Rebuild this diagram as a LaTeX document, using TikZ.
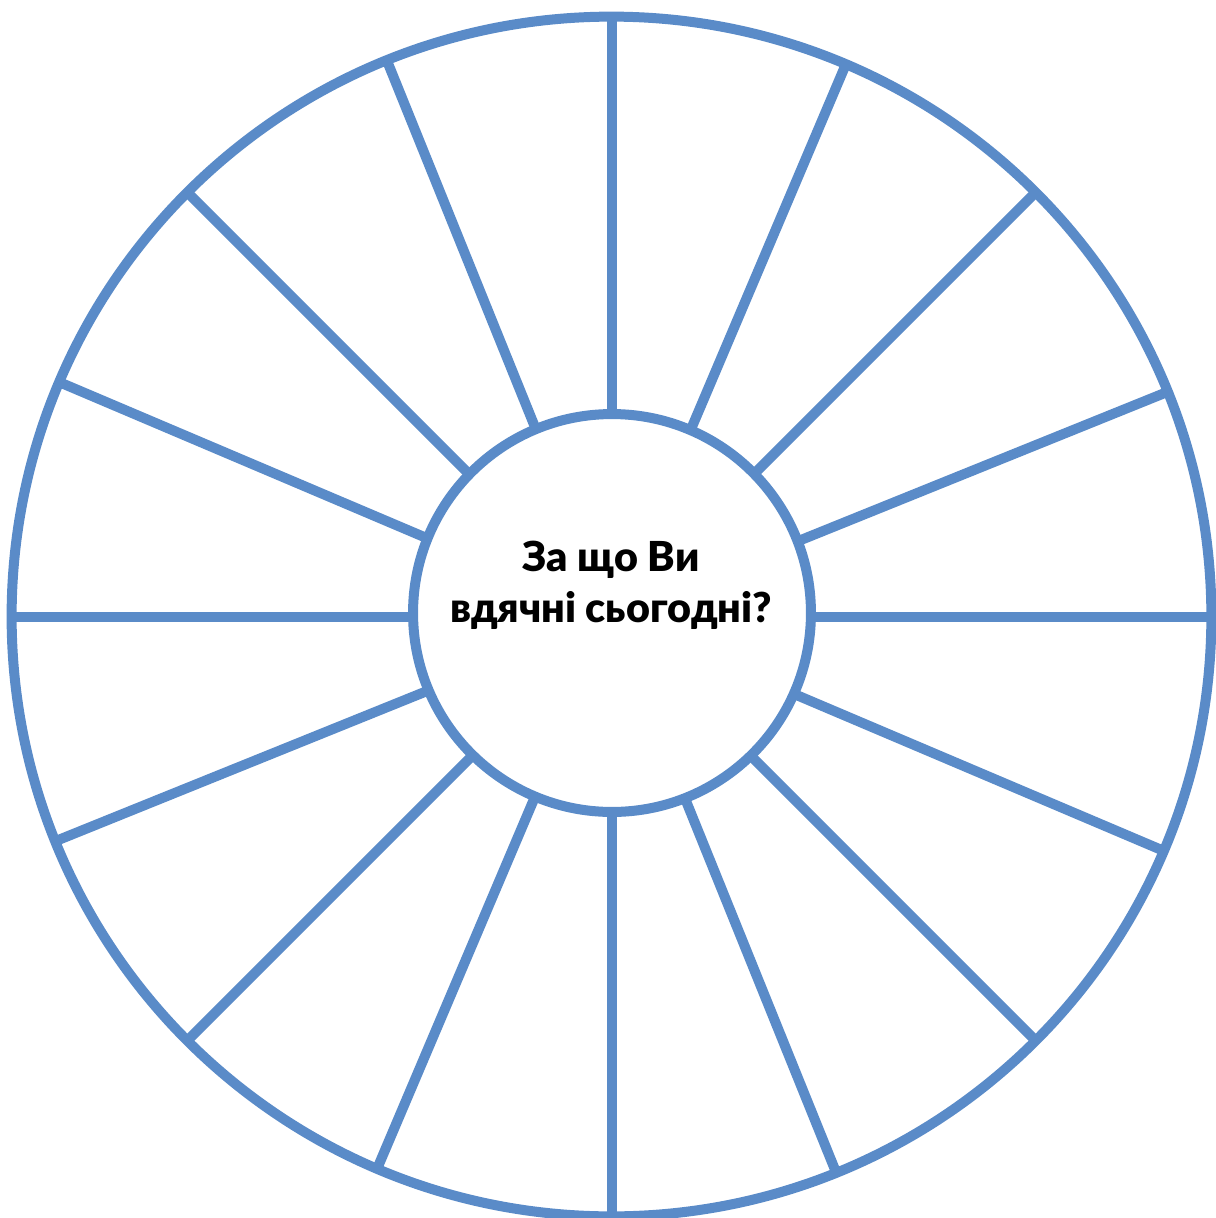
\documentclass[tikz,border=0pt]{standalone}
\usepackage{fontspec}
\setmainfont{Lato}[BoldFont={Lato Black}]
\usepackage{tikz}

\definecolor{wheelblue}{RGB}{90,139,200}

\begin{document}
\begin{tikzpicture}[
  x=0.02cm, y=-0.02cm,
  rim/.style={draw=wheelblue, line width=0.2cm, circle, inner sep=0pt,
              outer sep=0pt, minimum size=24cm},
  hub/.style={draw=wheelblue, line width=0.2cm, circle, fill=white,
              inner sep=0pt, minimum size=7.96cm},
  spoke/.style={draw=wheelblue, line width=0.2cm},
  question/.style={font=\fontsize{23.5}{28.5}\selectfont\bfseries, align=center}
]
  \useasboundingbox (0,0) rectangle (1215,1218);

  \node[rim] (rim) at (611.5,616.5) {};
  \foreach \a in {0,22.1,45,67.9,90,112.1,135,157.9,
                  180,202.1,225,247.9,270,292.1,315,337.9}
    \draw[spoke] (rim.center) -- (rim.\a);
  \node[hub] (hub) at (612,613) {};

  \node[question, anchor=base] (ask) at (611,622) {За що Ви\\вдячні сьогодні?};
\end{tikzpicture}
\end{document}
